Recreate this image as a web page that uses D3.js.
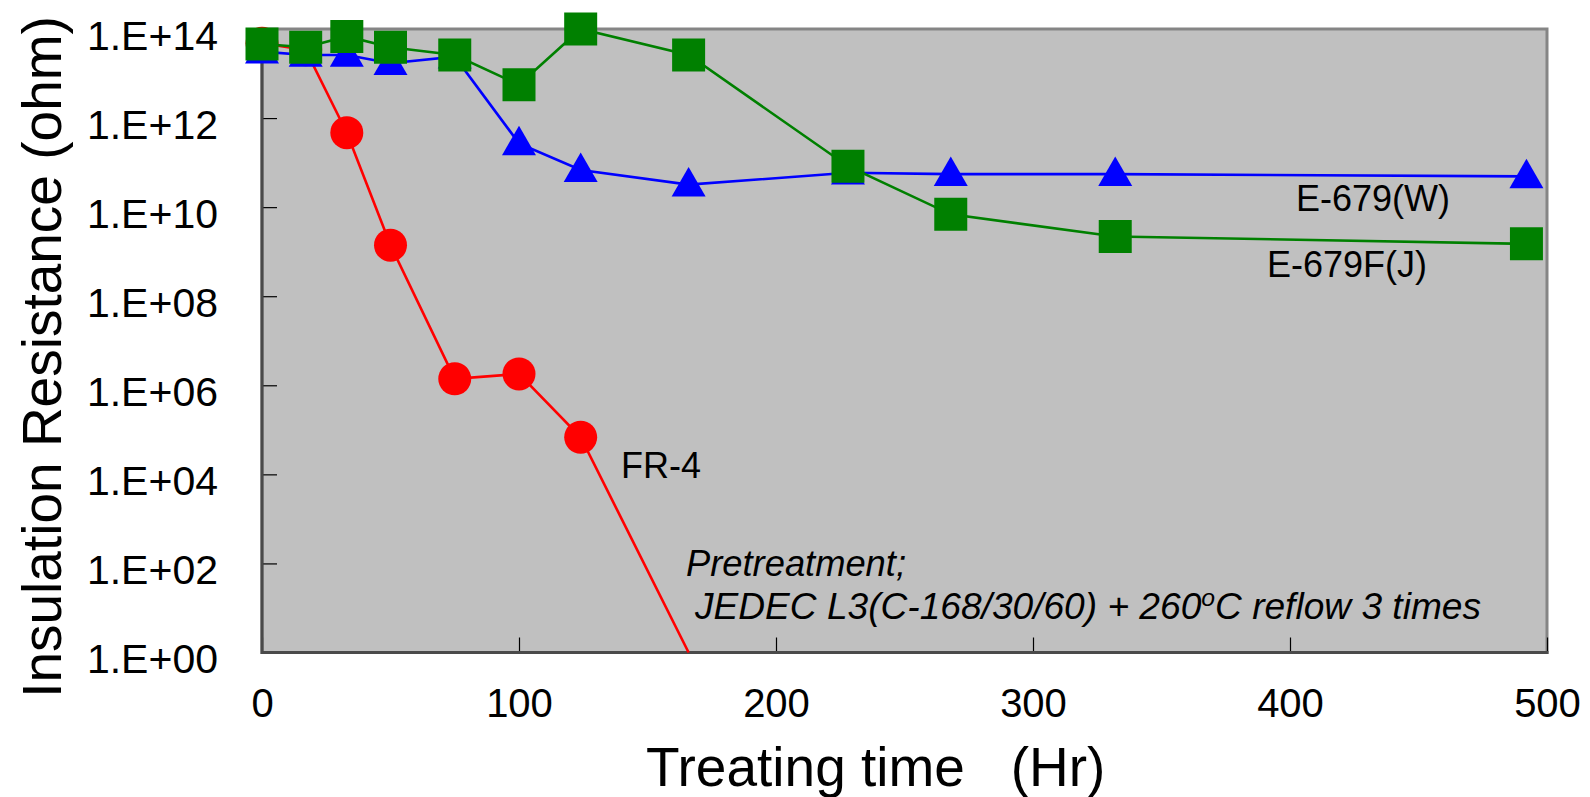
<!DOCTYPE html>
<html>
<head>
<meta charset="utf-8">
<script src="https://cdn.jsdelivr.net/npm/d3@7"></script>
<style>
  body { margin: 0; background: #fff; }
  text { font-family: "Liberation Sans", Arial, sans-serif; fill: #000; }
</style>
</head>
<body>
<div id="chart"></div>
<script>
// treating time (Hr)
const hours = [0, 17, 33, 50, 75, 100, 124, 166, 228, 268, 332, 492];
const fr4Hours = [0, 17, 33, 50, 75, 100, 124, 166];

// insulation resistance (ohm)
const fr4 = [4.8e13, 3.4e13, 4.7e11, 1.4e9, 1.4e6, 1.8e6, 6.8e4, 1];
const e679w = [3.1e13, 2.6e13, 2.6e13, 1.7e13, 2.4e13, 2.7e11, 6.8e10, 3.2e10, 5.9e10, 5.5e10, 5.5e10, 4.9e10];
const e679fj = [4.6e13, 3.9e13, 6.8e13, 3.9e13, 2.6e13, 5.6e12, 1.0e14, 2.6e13, 8.3e10, 6.9e9, 2.2e9, 1.5e9];

const yTicks = [1, 1e2, 1e4, 1e6, 1e8, 1e10, 1e12, 1e14];
const yTickLabels = ["1.E+00", "1.E+02", "1.E+04", "1.E+06", "1.E+08", "1.E+10", "1.E+12", "1.E+14"];
const xTicks = [0, 100, 200, 300, 400, 500];

const width = 1590, height = 797;
const plotLeft = 262, plotRight = 1547, plotTop = 29, plotBottom = 652.5;

const svg = d3.select("#chart").append("svg")
  .attr("width", width)
  .attr("height", height);

const x = d3.scaleLinear().domain([0, 500]).range([plotLeft, plotRight]);
const y = d3.scaleLog().domain([1, 1e14]).range([plotBottom, plotTop]);

// plot area
svg.append("rect")
  .attr("x", plotLeft).attr("y", plotTop)
  .attr("width", plotRight - plotLeft).attr("height", plotBottom - plotTop)
  .attr("fill", "#c0c0c0")
  .attr("stroke", "#858585")
  .attr("stroke-width", 3);

// axes (ticks point inward)
const yAxis = svg.append("g")
  .attr("transform", `translate(${plotLeft},0)`)
  .call(d3.axisLeft(y).tickValues(yTicks).tickSize(-15).tickPadding(44)
    .tickFormat((d, i) => yTickLabels[i]));
yAxis.select(".domain").remove();
yAxis.selectAll("line").attr("stroke", "#000").attr("stroke-width", 1.2);
yAxis.selectAll("text")
  .attr("dy", "0.49em")
  .style("font-size", "41px")
  .style("font-family", "'Liberation Sans', Arial, sans-serif");

const xAxis = svg.append("g")
  .attr("transform", `translate(0,${plotBottom})`)
  .call(d3.axisBottom(x).tickValues(xTicks).tickSize(-15).tickPadding(36));
xAxis.select(".domain").remove();
xAxis.selectAll("line").attr("stroke", "#000").attr("stroke-width", 1.2);
xAxis.selectAll("text")
  .style("font-size", "40px")
  .style("font-family", "'Liberation Sans', Arial, sans-serif");

// dark left and bottom axis lines
svg.append("path")
  .attr("d", `M${plotLeft},${plotTop - 1.5}V${plotBottom}H${plotRight + 1.5}`)
  .attr("fill", "none")
  .attr("stroke", "#4a4a4a")
  .attr("stroke-width", 3);

// series
const line = d3.line().x(d => x(d[0])).y(d => y(d[1]));

function drawSeries(xs, vals, color, marker) {
  const pts = xs.map((h, i) => [h, vals[i]]);
  svg.append("path")
    .datum(pts)
    .attr("d", line)
    .attr("fill", "none")
    .attr("stroke", color)
    .attr("stroke-width", 2.6);
  // the last FR-4 point sits on the axis floor and has no marker
  const shown = pts.filter(p => p[1] > 1);
  const sym = d3.symbol().type(marker.type).size(marker.size);
  svg.append("g").selectAll("path")
    .data(shown)
    .join("path")
    .attr("transform", d => `translate(${x(d[0])},${y(d[1]) + (marker.shift || 0)})`)
    .attr("d", sym)
    .attr("fill", color);
}

drawSeries(fr4Hours, fr4, "#ff0000", { type: d3.symbolCircle, size: Math.PI * 16.5 * 16.5 });
drawSeries(hours, e679w, "#0000ff", { type: d3.symbolTriangle, size: 500, shift: 2 });
drawSeries(hours, e679fj, "#008000", { type: d3.symbolSquare, size: 33 * 33 });

// series labels
const labels = [
  { text: "E-679(W)", x: 1296, y: 211 },
  { text: "E-679F(J)", x: 1267, y: 277 },
  { text: "FR-4", x: 621, y: 478 }
];
svg.append("g").selectAll("text")
  .data(labels)
  .join("text")
  .attr("x", d => d.x)
  .attr("y", d => d.y)
  .style("font-size", "36px")
  .text(d => d.text);

// pretreatment note
svg.append("text")
  .attr("x", 686).attr("y", 576)
  .attr("textLength", 220)
  .attr("lengthAdjust", "spacingAndGlyphs")
  .style("font-size", "36px")
  .style("font-style", "italic")
  .text("Pretreatment;");

const note = svg.append("text")
  .attr("x", 695).attr("y", 619)
  .attr("textLength", 786)
  .attr("lengthAdjust", "spacingAndGlyphs")
  .style("font-size", "36px")
  .style("font-style", "italic");
note.append("tspan").text("JEDEC L3(C-168/30/60) + 260");
note.append("tspan").attr("dy", -13).style("font-size", "24px").text("o");
note.append("tspan").attr("dy", 13).text("C reflow 3 times");

// axis titles
svg.append("text")
  .attr("transform", "translate(61,357) rotate(-90)")
  .attr("text-anchor", "middle")
  .style("font-size", "55px")
  .text("Insulation Resistance (ohm)");

svg.append("text")
  .attr("x", 646).attr("y", 786)
  .style("font-size", "55px")
  .style("white-space", "pre")
  .text("Treating time   (Hr)");
</script>
</body>
</html>
